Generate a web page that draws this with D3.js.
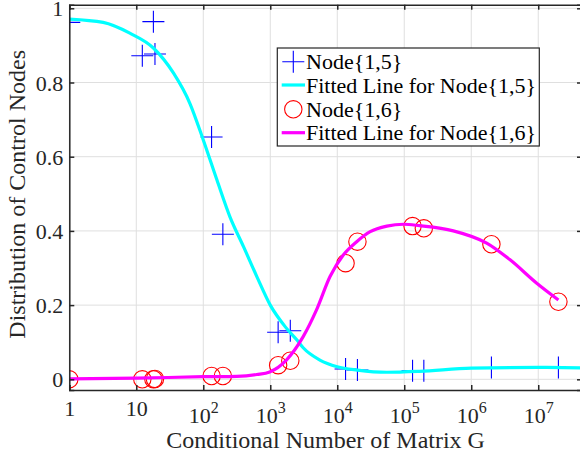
<!DOCTYPE html>
<html>
<head>
<meta charset="utf-8">
<script src="https://cdn.jsdelivr.net/npm/d3@7"></script>
<style>
  html, body { margin: 0; padding: 0; background: #fff; }
  svg { display: block; }
</style>
</head>
<body>
<svg id="chart" width="580" height="460"></svg>
<script>
// Measured samples: condition number of G vs. share of control nodes
const node15X = [1, 12.3, 19, 18, 133, 196, 1310, 1990, 13300, 20000, 133000, 196000, 2000000, 20000000];
const node15Y = [0.962, 0.872, 0.877, 0.964, 0.653, 0.391, 0.127, 0.131, 0.028, 0.025, 0.023, 0.023, 0.032, 0.032];

const node16X = [1, 12.3, 18, 19, 133, 196, 1310, 1990, 13300, 20000, 133000, 196000, 2000000, 20000000];
const node16Y = [0, 0, 0, 0.001, 0.009, 0.009, 0.038, 0.050, 0.313, 0.371, 0.413, 0.407, 0.364, 0.209];

// Fitted curves, sampled along the x axis
const fit15X = [1, 3.2, 8, 18, 36, 63, 100, 160, 250, 400, 630, 1000, 1700, 2500, 3100, 5500, 10000, 20000, 55000, 170000, 1000000, 10000000, 45000000];
const fit15Y = [0.971, 0.962, 0.933, 0.893, 0.825, 0.744, 0.645, 0.537, 0.438, 0.357, 0.277, 0.200, 0.140, 0.106, 0.085, 0.052, 0.034, 0.025, 0.019, 0.0215, 0.030, 0.032, 0.031];

const fit16X = [1, 10, 100, 316, 630, 980, 1740, 3100, 4900, 7800, 12300, 19500, 31000, 55000, 98000, 170000, 540000, 1700000, 3800000, 9500000, 20000000];
const fit16Y = [0.001, 0.003, 0.007, 0.008, 0.013, 0.020, 0.052, 0.115, 0.187, 0.277, 0.335, 0.371, 0.398, 0.413, 0.418, 0.414, 0.400, 0.367, 0.322, 0.259, 0.214];

const xTickValues = [1, 10, 100, 1000, 1e4, 1e5, 1e6, 1e7];
const yTickValues = [0, 0.2, 0.4, 0.6, 0.8, 1];
const yTickLabels = ["0", "0.2", "0.4", "0.6", "0.8", "1"];

const legendLabels = ["Node{1,5}", "Fitted Line for Node{1,5}", "Node{1,6}", "Fitted Line for Node{1,6}"];

const xTitle = "Conditional Number of Matrix G";
const yTitle = "Distribution of Control Nodes";

// Layout
const plot = { left: 69.3, right: 582, top: 4.7, bottom: 390 };
const axisColor = "#262626";
const gridColor = "#dfdfdf";
const serif = "Liberation Serif";

const svg = d3.select("#chart");

const x = d3.scaleLog().domain([1, 4.5e7]).range([plot.left, plot.right]);
const y = d3.scaleLinear().domain([-0.0288, 1.0097]).range([plot.bottom, plot.top]);

// Grid
const grid = svg.append("g");
grid.selectAll("line.vx").data(xTickValues).join("line")
  .attr("x1", d => x(d)).attr("x2", d => x(d))
  .attr("y1", plot.top).attr("y2", plot.bottom)
  .attr("stroke", gridColor).attr("stroke-width", 1);
grid.selectAll("line.hy").data(yTickValues).join("line")
  .attr("x1", plot.left).attr("x2", plot.right)
  .attr("y1", d => y(d)).attr("y2", d => y(d))
  .attr("stroke", gridColor).attr("stroke-width", 1);

// Data layers
svg.append("defs").append("clipPath").attr("id", "plotclip")
  .append("rect").attr("x", plot.left).attr("y", plot.top)
  .attr("width", plot.right - plot.left).attr("height", plot.bottom - plot.top);

const layer = svg.append("g").attr("clip-path", "url(#plotclip)");

const plusPath = "M-11,0H11M0,-11V11";

const line = d3.line()
  .x(d => x(d[0])).y(d => y(d[1]))
  .curve(d3.curveMonotoneX);

// Node{1,5} markers
layer.append("g").selectAll("path").data(d3.zip(node15X, node15Y)).join("path")
  .attr("transform", d => `translate(${x(d[0])},${y(d[1])})`)
  .attr("d", plusPath)
  .attr("fill", "none").attr("stroke", "#0000ff").attr("stroke-width", 1.1);

// Fit for Node{1,5}
layer.append("path").datum(d3.zip(fit15X, fit15Y))
  .attr("d", line).attr("fill", "none")
  .attr("stroke", "#00ffff").attr("stroke-width", 3.2);

// Node{1,6} markers
layer.append("g").selectAll("circle").data(d3.zip(node16X, node16Y)).join("circle")
  .attr("cx", d => x(d[0])).attr("cy", d => y(d[1])).attr("r", 8.7)
  .attr("fill", "none").attr("stroke", "#ff0000").attr("stroke-width", 1.1);

// Fit for Node{1,6}
layer.append("path").datum(d3.zip(fit16X, fit16Y))
  .attr("d", line).attr("fill", "none")
  .attr("stroke", "#ff00ff").attr("stroke-width", 3.2);

// Axes box with inward ticks
const fontSize = 22;
const bottomAxis = d3.axisBottom(x).tickValues(xTickValues).tickSize(-5).tickFormat("");
const topAxis = d3.axisTop(x).tickValues(xTickValues).tickSize(-5).tickFormat("");
const leftAxis = d3.axisLeft(y).tickValues(yTickValues).tickSize(-5).tickPadding(6)
  .tickFormat((d, i) => yTickLabels[i]);
const rightAxis = d3.axisRight(y).tickValues(yTickValues).tickSize(-5).tickFormat("");

function styleAxis(g) {
  g.select(".domain").attr("stroke", axisColor).attr("stroke-width", 1.5);
  g.selectAll(".tick line").attr("stroke", axisColor).attr("stroke-width", 1.5);
  g.attr("font-family", null).attr("font-size", null);
}

const gB = svg.append("g").attr("transform", `translate(0,${plot.bottom})`).call(bottomAxis).call(styleAxis);
svg.append("g").attr("transform", `translate(0,${plot.top})`).call(topAxis).call(styleAxis);
const gL = svg.append("g").attr("transform", `translate(${plot.left},0)`).call(leftAxis).call(styleAxis);
svg.append("g").attr("transform", `translate(${plot.right},0)`).call(rightAxis).call(styleAxis);

gL.selectAll(".tick text")
  .style("font-family", serif).style("font-size", fontSize + "px").attr("fill", axisColor)
  .attr("dy", null).attr("y", 7.5);

// x tick labels: 1, 10, then powers of ten with superscripts
gB.selectAll(".tick").each(function (d) {
  const t = d3.select(this);
  t.selectAll("text").remove();
  const exp = Math.round(Math.log10(d));
  const label = t.append("text").attr("text-anchor", "middle")
    .style("font-family", serif).style("font-size", fontSize + "px").attr("fill", axisColor);
  if (exp < 2) {
    label.attr("y", 26).text(String(d));
  } else {
    label.attr("y", 32.7);
    label.append("tspan").text("10");
    label.append("tspan").style("font-size", "16px").attr("dy", -9.4).text(String(exp));
  }
});

// Axis titles
svg.append("text")
  .attr("x", (plot.left + 580) / 2 + 1).attr("y", 448)
  .attr("text-anchor", "middle")
  .style("font-family", serif).style("font-size", "24px").attr("fill", axisColor)
  .text(xTitle);

svg.append("text")
  .attr("transform", `translate(25,${(plot.top + plot.bottom) / 2 - 3}) rotate(-90)`)
  .attr("text-anchor", "middle")
  .style("font-family", serif).style("font-size", "24px").attr("fill", axisColor)
  .text(yTitle);

// Legend
const lg = svg.append("g");
lg.append("rect")
  .attr("x", 277.3).attr("y", 48).attr("width", 262).attr("height", 98)
  .attr("fill", "#fff").attr("stroke", axisColor).attr("stroke-width", 1.2);

const rowY = [61.7, 85, 109.3, 132.7];
const symX = 293.3;

lg.append("path").attr("transform", `translate(${symX},${rowY[0]})`)
  .attr("d", plusPath).attr("fill", "none").attr("stroke", "#0000ff").attr("stroke-width", 1.1);
lg.append("line").attr("x1", 281.7).attr("x2", 305).attr("y1", rowY[1]).attr("y2", rowY[1])
  .attr("stroke", "#00ffff").attr("stroke-width", 3.2);
lg.append("circle").attr("cx", symX).attr("cy", rowY[2]).attr("r", 8.7)
  .attr("fill", "none").attr("stroke", "#ff0000").attr("stroke-width", 1.1);
lg.append("line").attr("x1", 281.7).attr("x2", 305).attr("y1", rowY[3]).attr("y2", rowY[3])
  .attr("stroke", "#ff00ff").attr("stroke-width", 3.2);

lg.selectAll("text.lab").data(legendLabels).join("text")
  .attr("class", "lab")
  .attr("x", 306).attr("y", (d, i) => rowY[i] + 7.5)
  .style("font-family", serif).style("font-size", fontSize + "px").attr("fill", "#000")
  .text(d => d);
</script>
</body>
</html>
